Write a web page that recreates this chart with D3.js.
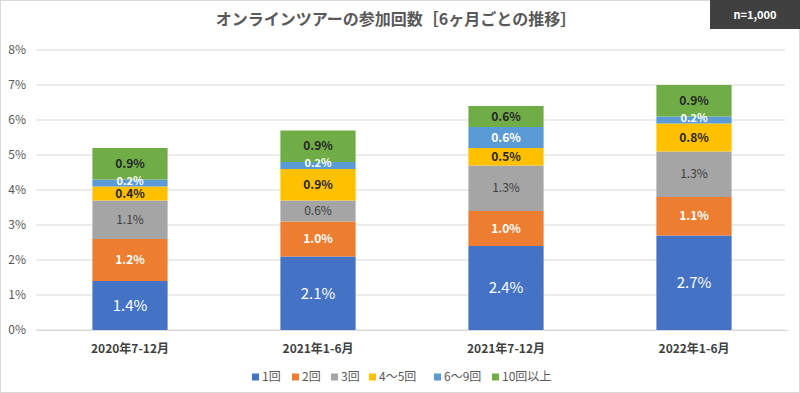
<!DOCTYPE html>
<html>
<head>
<meta charset="utf-8">
<script src="https://cdn.jsdelivr.net/npm/d3@7"></script>
<style>
    body { margin: 0; background: #fff; }
    text { font-family: "Noto Sans CJK JP", "Noto Sans", sans-serif; }
</style>
</head>
<body>
<div id="viz"></div>
<script>
let width = 800, height = 393;

let periods = ["2020年7-12月", "2021年1-6月", "2021年7-12月", "2022年1-6月"];
let seriesNames = ["1回", "2回", "3回", "4～5回", "6～9回", "10回以上"];
let colors = ["#4472C4", "#ED7D31", "#A5A5A5", "#FFC000", "#5B9BD5", "#70AD47"];
let once = [1.4, 2.1, 2.4, 2.7];
let twice = [1.2, 1.0, 1.0, 1.1];
let three = [1.1, 0.6, 1.3, 1.3];
let fourFive = [0.4, 0.9, 0.5, 0.8];
let sixNine = [0.2, 0.2, 0.6, 0.2];
let tenPlus = [0.9, 0.9, 0.6, 0.9];
let yTicks = [0, 1, 2, 3, 4, 5, 6, 7, 8];

// label style per series
let labelFill = ["#fff", "#fff", "#404040", "#262626", "#fff", "#262626"];
let labelWeight = ["normal", "bold", "normal", "bold", "bold", "bold"];
let labelSize = ["15px", "12px", "12px", "12px", "12px", "12px"];

let allSeries = [once, twice, three, fourFive, sixNine, tenPlus];
let rows = periods.map((p, i) => {
    let r = {period: p};
    seriesNames.forEach((s, j) => r[s] = allSeries[j][i]);
    return r;
});

let svg = d3.select("#viz").append("svg")
    .attr("width", width).attr("height", height);

svg.append("rect")
    .attr("x", 0.5).attr("y", 0.5)
    .attr("width", width - 1).attr("height", height - 1)
    .attr("fill", "#fff").attr("stroke", "#d9d9d9");

let x = d3.scaleBand().domain(periods).range([36, 788]).paddingInner(0.6).paddingOuter(0.3);
let y = d3.scaleLinear().domain([0, 8]).range([330, 50]);

// gridlines
svg.append("g")
    .selectAll("line")
    .data(yTicks)
    .enter()
    .append("line")
    .attr("x1", 36).attr("x2", 785)
    .attr("y1", d => y(d)).attr("y2", d => y(d))
    .attr("stroke", "#d9d9d9").attr("stroke-width", 1);

// y axis
let yAxis = svg.append("g")
    .attr("transform", "translate(26,0)")
    .call(d3.axisLeft(y).tickValues(yTicks).tickFormat(d => d + "%").tickSize(0).tickPadding(0));
yAxis.select(".domain").remove();
yAxis.selectAll("text").style("font-size", "12px").attr("fill", "#595959")
    .style("font-family", "\"Noto Sans CJK JP\", sans-serif");

// x axis
let xAxis = svg.append("g")
    .attr("transform", "translate(0,330)")
    .call(d3.axisBottom(x).tickSize(0).tickPadding(14));
xAxis.select(".domain").attr("stroke", "#d9d9d9");
xAxis.selectAll("text").style("font-size", "12px").style("font-weight", "bold").attr("fill", "#404040")
    .style("font-family", "\"Noto Sans CJK JP\", sans-serif");

let stack = d3.stack().keys(seriesNames);
let stacked = stack(rows);

let layers = svg.append("g")
    .selectAll("g")
    .data(stacked)
    .enter()
    .append("g")
    .attr("fill", (d, i) => colors[i]);

layers.selectAll("rect")
    .data(d => d)
    .enter()
    .append("rect")
    .attr("x", d => x(d.data.period))
    .attr("y", d => y(d[1]))
    .attr("width", x.bandwidth())
    .attr("height", d => y(d[0]) - y(d[1]));

// labels (thin slices get a smaller font, nudged up a bit so they don't collide)
stacked.forEach((layer, i) => {
    svg.append("g")
        .selectAll("text")
        .data(layer)
        .enter()
        .append("text")
        .attr("x", d => x(d.data.period) + x.bandwidth() / 2)
        .attr("y", d => (y(d[0]) + y(d[1])) / 2 - ((d[1] - d[0]) < 0.3 ? 2 : 0))
        .attr("dy", "0.35em")
        .attr("text-anchor", "middle")
        .attr("fill", labelFill[i])
        .style("font-size", d => (d[1] - d[0]) < 0.3 ? "11px" : labelSize[i])
        .style("font-weight", labelWeight[i])
        .text(d => d3.format(".1f")(d[1] - d[0]) + "%");
});

// title
svg.append("text")
    .attr("x", 396).attr("y", 25)
    .attr("text-anchor", "middle")
    .attr("fill", "#595959")
    .style("font-size", "16px")
    .style("font-weight", "bold")
    .text("オンラインツアーの参加回数［6ヶ月ごとの推移］");

// n box
svg.append("rect")
    .attr("x", 710).attr("y", 0)
    .attr("width", 90).attr("height", 29)
    .attr("fill", "#404040");
svg.append("text")
    .attr("x", 755).attr("y", 15).attr("dy", "0.35em")
    .attr("text-anchor", "middle")
    .attr("fill", "#fff")
    .style("font-size", "11px")
    .style("font-weight", "bold")
    .text("n=1,000");

// legend
let legendX = [252, 292, 331, 369, 434, 492];
let legend = svg.append("g")
    .selectAll("g")
    .data(seriesNames)
    .enter()
    .append("g")
    .attr("transform", (d, i) => "translate(" + legendX[i] + ",377)");
legend.append("rect")
    .attr("x", 0).attr("y", -3.5)
    .attr("width", 7).attr("height", 7)
    .attr("fill", (d, i) => colors[i]);
legend.append("text")
    .attr("x", 10).attr("dy", "0.35em")
    .attr("fill", "#595959")
    .style("font-size", "12px")
    .text(d => d);
</script>
</body>
</html>
